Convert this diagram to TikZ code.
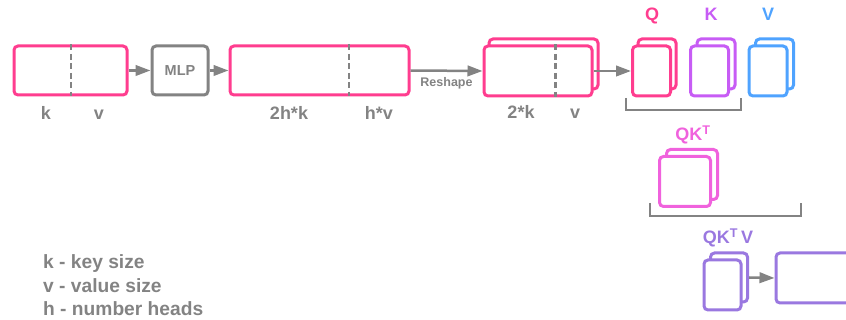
\documentclass[tikz,border=0pt]{standalone}
\usepackage{fontspec}
\setmainfont{Liberation Sans}
\usetikzlibrary{arrows.meta,calc}
\definecolor{pk}{HTML}{FF3D8F}
\definecolor{gy}{HTML}{838383}
\definecolor{kp}{HTML}{C75CF5}
\definecolor{vb}{HTML}{4FA3FF}
\definecolor{qk}{HTML}{F062DD}
\definecolor{qv}{HTML}{9A78E0}
\begin{document}
\begin{tikzpicture}[x=1pt,y=-1pt,
  box/.style={draw,line width=3pt,rounded corners=4pt,inner sep=0pt,fill=white},
  lbl/.style={font=\bfseries\fontsize{18}{20}\selectfont,text=gy,inner sep=0pt,anchor=base},
  legend/.style={lbl,anchor=base west,font=\bfseries\fontsize{19.2}{21}\selectfont},
  conn/.style={draw=gy,line width=2.5pt,-{Triangle[length=15pt,width=10.5pt]}},
  divider/.style={draw=gy,line width=2.6pt,dash pattern=on 6pt off 3.5pt},
  brace/.style={draw=gy,line width=2.5pt}]
\useasboundingbox (0,0) rectangle (846,320);
\clip (0,0) rectangle (846,320);

% first row
\node[box,draw=pk,minimum width=113pt,minimum height=49pt] (b1) at (70.5,70.5) {};
\node[box,draw=gy,minimum width=56pt,minimum height=49pt,font=\bfseries\fontsize{14.5}{16}\selectfont,text=gy] (mlp) at (180,70.5) {MLP};
\node[box,draw=pk,minimum width=179pt,minimum height=49pt] (b2) at (319.5,70.5) {};
\node[box,draw=pk,minimum width=109pt,minimum height=50pt] (r2) at (543.5,64) {};
\node[box,draw=pk,minimum width=108pt,minimum height=50pt] (r1) at (538,71) {};

\draw[divider] ($(b1.north west)+(58.5,0)$) -- ($(b1.south west)+(58.5,0)$);
\draw[divider] ($(b2.north west)+(120.5,0)$) -- ($(b2.south west)+(120.5,0)$);
\draw[divider] ($(r1.north west)+(73,0)$) -- ($(r1.south west)+(73,0)$);

% Q K V stacks
\node[box,draw=pk,minimum width=38pt,minimum height=50pt] (q2) at (657,64) {};
\node[box,draw=pk,minimum width=38pt,minimum height=50pt] (q1) at (651.5,71) {};
\node[box,draw=kp,minimum width=38pt,minimum height=50pt] (k2) at (716,64) {};
\node[box,draw=kp,minimum width=38pt,minimum height=50pt] (k1) at (709.5,71) {};
\node[box,draw=vb,minimum width=38pt,minimum height=50pt] (v2) at (774.5,64) {};
\node[box,draw=vb,minimum width=38pt,minimum height=50pt] (v1) at (768,71) {};

% QK^T stack
\node[box,draw=qk,minimum width=51pt,minimum height=50pt] (s2) at (692,174.5) {};
\node[box,draw=qk,minimum width=51pt,minimum height=50pt] (s1) at (685,181.5) {};

% QK^T V stack and output
\node[box,draw=qv,minimum width=37pt,minimum height=49pt] (o2) at (729,277.5) {};
\node[box,draw=qv,minimum width=37pt,minimum height=50pt] (o1) at (722.5,285) {};
\node[box,draw=qv,minimum width=94pt,minimum height=50pt] (out) at (823,278) {};

% connectors
\draw[conn] (b1.east) -- (mlp.west);
\draw[conn] (mlp.east) -- (b2.west);
\draw[conn] (b2.east) -- node[below=5pt,inner sep=0pt,font=\bfseries\fontsize{12.5}{14}\selectfont,text=gy] (rs) {Reshape} (r1.west);
\draw[conn] (r1.east) -- (q1.west);
\draw[conn] (o2.east) -- (out.west);

% brackets
\draw[brace] (626,98) -- (626,110) -- (741,110) -- (741,98);
\draw[brace] (650,203) -- (650,216) -- (801,216) -- (801,203);

% labels
\node[lbl] (lk) at (46,120) {k};
\node[lbl] (lv) at (99,120) {v};
\node[lbl] (l2hk) at (289,120) {2h*k};
\node[lbl] (lhv) at (379,120) {h*v};
\node[lbl] (l2k) at (521,119) {2*k};
\node[lbl] (lv2) at (575,119) {v};
\node[lbl,text=pk] (lq) at (652,21) {Q};
\node[lbl,text=kp] (lkk) at (711,21) {K};
\node[lbl,text=vb] (lvv) at (768,21) {V};
\node[lbl,text=qk] (lqk) at (693,141) {QK\textsuperscript{T}};
\node[lbl,text=qv] (lqkv) at (728,244) {QK\textsuperscript{T}\,V};

% legend
\node[legend] (g1) at (43,269) {k - key size};
\node[legend] (g2) at (43,293) {v - value size};
\node[legend] (g3) at (43,316) {h - number heads};
\end{tikzpicture}
\end{document}
